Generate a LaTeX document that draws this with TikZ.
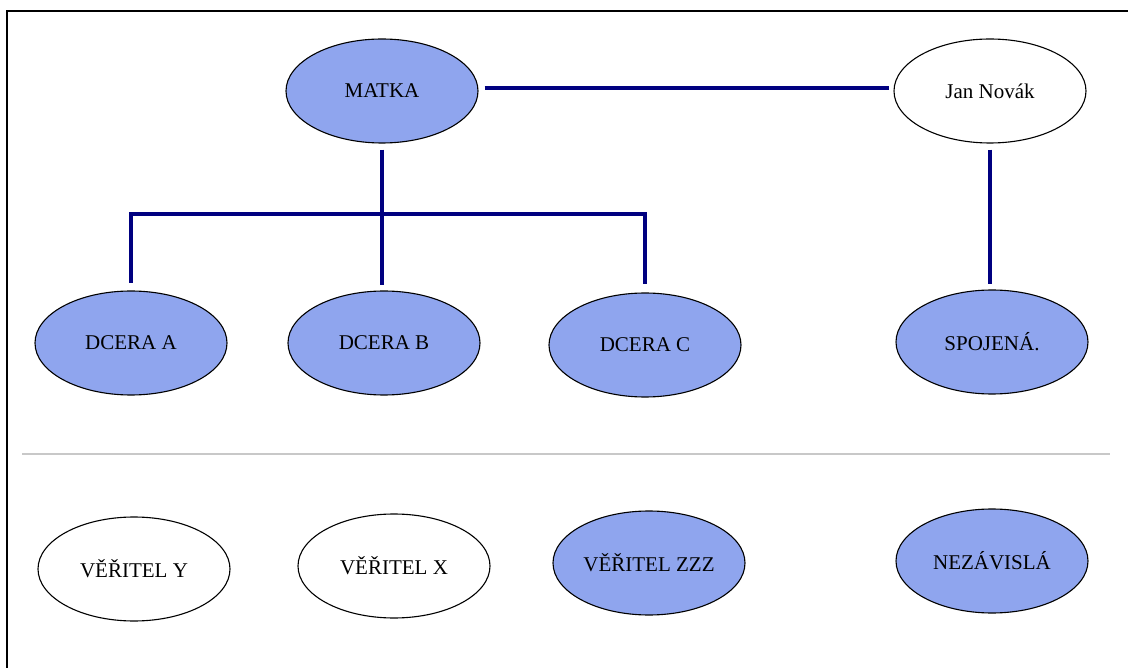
\documentclass[tikz,border=0pt]{standalone}
\usepackage{fontspec}
\setmainfont{Liberation Serif}
\usetikzlibrary{shapes.geometric}
\definecolor{fillblue}{RGB}{143,165,238}
\definecolor{linenavy}{RGB}{0,0,128}
\definecolor{sepgray}{RGB}{200,200,200}
\begin{document}
\begin{tikzpicture}[x=1pt,y=-1pt,
  ent/.style={ellipse, draw=black, line width=1.1pt, minimum width=192pt, minimum height=104pt, inner sep=0pt,
    font=\fontsize{21}{25}\selectfont},
  filled/.style={ent, fill=fillblue},
  plain/.style={ent, fill=white},
  conn/.style={draw=linenavy, line width=4pt}]
\useasboundingbox (0,0) rectangle (1128,668);
\fill[white] (0,0) rectangle (1128,668);
% frame
\draw[line width=2pt, black] (6.5,668) -- (6.5,11) -- (1128,11);
% nodes
\node[filled] (matka) at (382,91) {MATKA};
\node[plain]  (jan)   at (990,91) {Jan Novák};
\node[filled] (da) at (131,343) {DCERA A};
\node[filled] (db) at (384,343) {DCERA B};
\node[filled] (dc) at (645,345) {DCERA C};
\node[filled] (sp) at (992,342) {SPOJENÁ.};
\node[plain]  (vy) at (134,569) {VĚŘITEL Y};
\node[plain]  (vx) at (394,566) {VĚŘITEL X};
\node[filled] (vz) at (649,563) {VĚŘITEL ZZZ};
\node[filled] (nz) at (992,561) {NEZÁVISLÁ};
% separator
\coordinate (sepL) at (22,454);
\coordinate (sepR) at (1110,454);
\draw[sepgray, line width=2pt] (sepL) -- (sepR);
% connectors
\coordinate (bus) at (382,214);
\draw[conn, shorten <=6pt, shorten >=4pt] ([yshift=3pt]matka.east) -- ([yshift=3pt]jan.west);
\draw[conn, shorten <=6pt, shorten >=5pt] (matka.south) -- (matka.south |- db.north);
\draw[conn, line cap=rect] ([yshift=9pt]da.north) -- (da.north |- bus) -- (dc.north |- bus) -- ([yshift=10pt]dc.north);
\draw[conn, shorten <=6pt, shorten >=5pt] (jan.south) -- (jan.south |- sp.north);
\end{tikzpicture}
\end{document}
